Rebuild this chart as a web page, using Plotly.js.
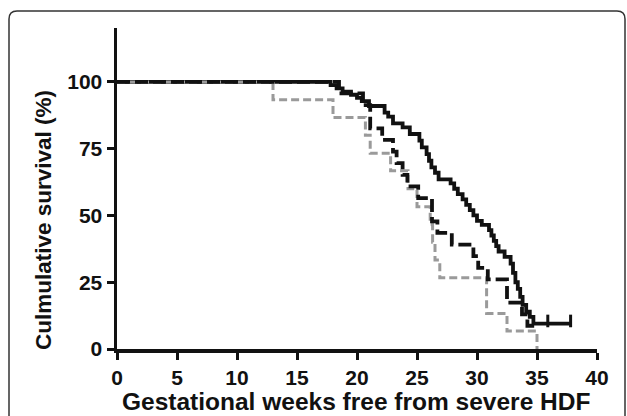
<!DOCTYPE html>
<html>
<head>
<meta charset="utf-8">
<script src="https://cdn.plot.ly/plotly-3.0.1.min.js"></script>
<style>
html,body{margin:0;padding:0;background:#fff;}
#chart{width:627px;height:416px;}
</style>
</head>
<body>
<div id="chart"></div>
<script>
// Kaplan-Meier step data (x = gestational weeks, y = cumulative survival %)
const solidX = [0, 17.8, 18.3, 18.8, 19.5, 20.0, 20.4, 21.0, 22.3, 22.6, 23.0, 23.8, 24.4, 25.2, 25.4, 25.8, 26.0, 26.2, 26.5, 26.8, 27.8, 28.1, 28.4, 28.8, 29.1, 29.4, 29.7, 30.0, 30.4, 31.0, 31.2, 31.4, 31.6, 31.8, 32.3, 32.8, 33.0, 33.2, 33.4, 33.6, 33.8, 34.1, 34.4, 34.7, 37.8];
const solidY = [100, 98.8, 97.6, 96.4, 95.2, 94.0, 92.8, 91.0, 88.5, 87.0, 84.5, 83.0, 80.5, 78.0, 75.5, 73.0, 70.5, 68.0, 66.0, 63.5, 62.0, 60.0, 58.0, 56.0, 54.0, 52.0, 50.0, 48.0, 46.5, 44.5, 42.5, 40.5, 38.5, 36.5, 34.5, 32.0, 28.5, 25.0, 22.5, 19.5, 16.5, 14.0, 12.0, 9.5, 9.5];
const solidCensorX = [35.9, 37.8];
const solidCensorY = [10.5, 10.5];

const dashX = [0, 18.5, 20.5, 21.1, 22.1, 23.0, 23.3, 23.8, 24.2, 25.1, 26.25, 26.7, 27.9, 29.7, 30.1, 30.9, 32.5, 33.75, 34.2, 34.8];
const dashY = [100, 95.7, 91.3, 82.6, 78.3, 73.9, 69.6, 65.2, 60.9, 56.5, 47.8, 43.5, 39.1, 34.8, 30.4, 26.1, 17.4, 13.0, 8.7, 8.7];

const greyX = [0, 13.0, 18.0, 20.7, 21.1, 22.8, 24.25, 25.0, 26.1, 26.3, 26.5, 26.9, 30.8, 32.5, 35.0];
const greyY = [100, 93.3, 86.7, 80.0, 73.3, 66.7, 60.0, 53.3, 46.7, 40.0, 33.3, 26.7, 13.3, 6.7, 0];

const xTicks = [0, 5, 10, 15, 20, 25, 30, 35, 40];
const yTicks = [0, 25, 50, 75, 100];

const xTitle = 'Gestational weeks free from severe HDF';
const yTitle = 'Culmulative survival (%)';

const FONT = 'Liberation Sans, Arial, Helvetica, sans-serif';

const traces = [
  {x: solidX, y: solidY, type: 'scatter', mode: 'lines', line: {shape: 'hv', color: '#111111', width: 3.8}, hoverinfo: 'skip'},
  {x: solidCensorX, y: solidCensorY, type: 'scatter', mode: 'markers', marker: {symbol: 'line-ns', size: 9, line: {color: '#111111', width: 3}}, hoverinfo: 'skip'},
  {x: greyX, y: greyY, type: 'scatter', mode: 'lines', line: {shape: 'hv', color: '#9a9a9a', width: 3, dash: '8px,4px'}, hoverinfo: 'skip'},
  {x: dashX, y: dashY, type: 'scatter', mode: 'lines', line: {shape: 'hv', color: '#111111', width: 3.8, dash: '13px,5px'}, hoverinfo: 'skip'}
];

// frame (rounded rectangle) in paper coords
const PW = 480, PH = 321;
const fx0 = (9 - 117) / PW, fx1 = (625 - 117) / PW, fyt = (349 - 11) / PH, fyb = (349 - 430) / PH;
const rdx = 8 / PW, rdy = 8 / PH;
const framePath = `M ${fx0},${fyb} L ${fx0},${fyt - rdy} Q ${fx0},${fyt} ${fx0 + rdx},${fyt} L ${fx1 - rdx},${fyt} Q ${fx1},${fyt} ${fx1},${fyt - rdy} L ${fx1},${fyb}`;

const layout = {
  width: 627, height: 416,
  margin: {l: 117, r: 30, t: 28, b: 67},
  paper_bgcolor: '#ffffff', plot_bgcolor: '#ffffff',
  showlegend: false,
  font: {family: FONT, color: '#111111'},
  xaxis: {
    range: [0, 40], tickvals: xTicks, ticktext: xTicks.map(String),
    showline: true, linewidth: 3.5, linecolor: '#111111', mirror: false,
    ticks: 'outside', ticklen: 7, tickwidth: 3, tickcolor: '#111111',
    showgrid: false, zeroline: false,
    tickfont: {family: FONT, size: 21, color: '#111111', weight: 'bold'}
  },
  yaxis: {
    range: [0, 120.2], tickvals: yTicks, ticktext: yTicks.map(String),
    showline: true, linewidth: 3.5, linecolor: '#111111',
    ticks: 'outside', ticklen: 7, tickwidth: 3, tickcolor: '#111111',
    showgrid: false, zeroline: false,
    tickfont: {family: FONT, size: 21, color: '#111111', weight: 'bold'}
  },
  annotations: [
    {text: xTitle, xref: 'paper', yref: 'paper', x: (356 - 117) / PW, y: (349 - 402) / PH,
     xanchor: 'center', yanchor: 'middle', showarrow: false,
     font: {family: FONT, size: 24.5, color: '#111111', weight: 'bold'}},
    {text: yTitle, xref: 'paper', yref: 'paper', x: (43 - 117) / PW, y: (349 - 220) / PH,
     xanchor: 'center', yanchor: 'middle', showarrow: false, textangle: -90,
     font: {family: FONT, size: 22.5, color: '#111111', weight: 'bold'}}
  ],
  shapes: [
    {type: 'path', xref: 'paper', yref: 'paper', path: framePath, line: {color: '#333333', width: 1.5}, layer: 'below'}
  ]
};

Plotly.newPlot('chart', traces, layout, {staticPlot: true, displayModeBar: false});
</script>
</body>
</html>
